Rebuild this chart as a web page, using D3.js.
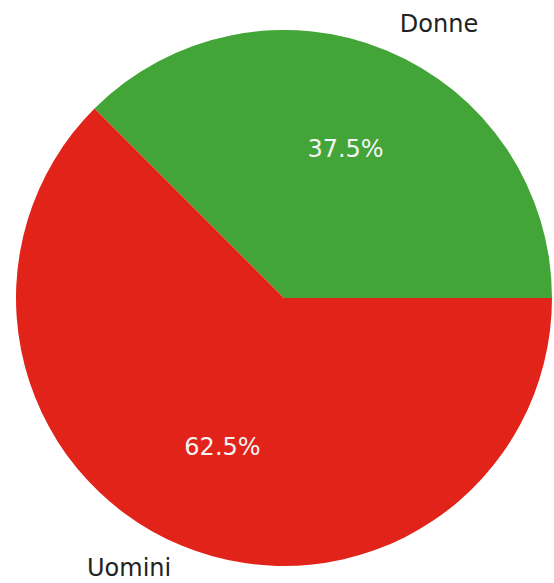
<!DOCTYPE html>
<html>
<head>
<meta charset="utf-8">
<script src="https://cdn.jsdelivr.net/npm/d3@7"></script>
<style>
  body { margin: 0; background: #fff; }
  text { font-family: "DejaVu Sans", sans-serif; }
</style>
</head>
<body>
<div id="chart"></div>
<script>
// data
const labels = ["Donne", "Uomini"];
const values = [37.5, 62.5];
const colors = ["#43a437", "#e2231a"];

const dimensions = { width: 554, height: 583, cx: 284, cy: 298, radius: 268 };

const svg = d3
  .select("#chart")
  .append("svg")
  .attr("width", dimensions.width)
  .attr("height", dimensions.height);

const ctr = svg
  .append("g")
  .attr("transform", `translate(${dimensions.cx}, ${dimensions.cy})`);

// matplotlib style: start at 3 o'clock, go counter-clockwise
const pie = d3
  .pie()
  .sort(null)
  .startAngle(Math.PI / 2)
  .endAngle(Math.PI / 2 - 2 * Math.PI);

const arcs = pie(values);

const arc = d3.arc().innerRadius(0).outerRadius(dimensions.radius);

ctr
  .selectAll("path")
  .data(arcs)
  .join("path")
  .attr("d", arc)
  .attr("fill", (d, i) => colors[i]);

const mid = (d) => (d.startAngle + d.endAngle) / 2;

// percentage labels
ctr
  .selectAll(".pct")
  .data(arcs)
  .join("text")
  .attr("class", "pct")
  .attr("x", (d) => 0.6 * dimensions.radius * Math.sin(mid(d)))
  .attr("y", (d) => -0.6 * dimensions.radius * Math.cos(mid(d)))
  .attr("text-anchor", "middle")
  .attr("dominant-baseline", "central")
  .attr("font-size", 24)
  .attr("fill", "#f4f4f4")
  .text((d, i) => values[i].toFixed(1) + "%");

// category labels
ctr
  .selectAll(".lbl")
  .data(arcs)
  .join("text")
  .attr("class", "lbl")
  .attr("x", (d) => 1.1 * dimensions.radius * Math.sin(mid(d)) + (Math.sin(mid(d)) > 0 ? 3 : 0))
  .attr("y", (d) => -1.1 * dimensions.radius * Math.cos(mid(d)) - 2)
  .attr("text-anchor", (d) => (Math.sin(mid(d)) > 0 ? "start" : "end"))
  .attr("dominant-baseline", "central")
  .attr("font-size", 24)
  .attr("fill", "#222")
  .text((d, i) => labels[i]);
</script>
</body>
</html>
